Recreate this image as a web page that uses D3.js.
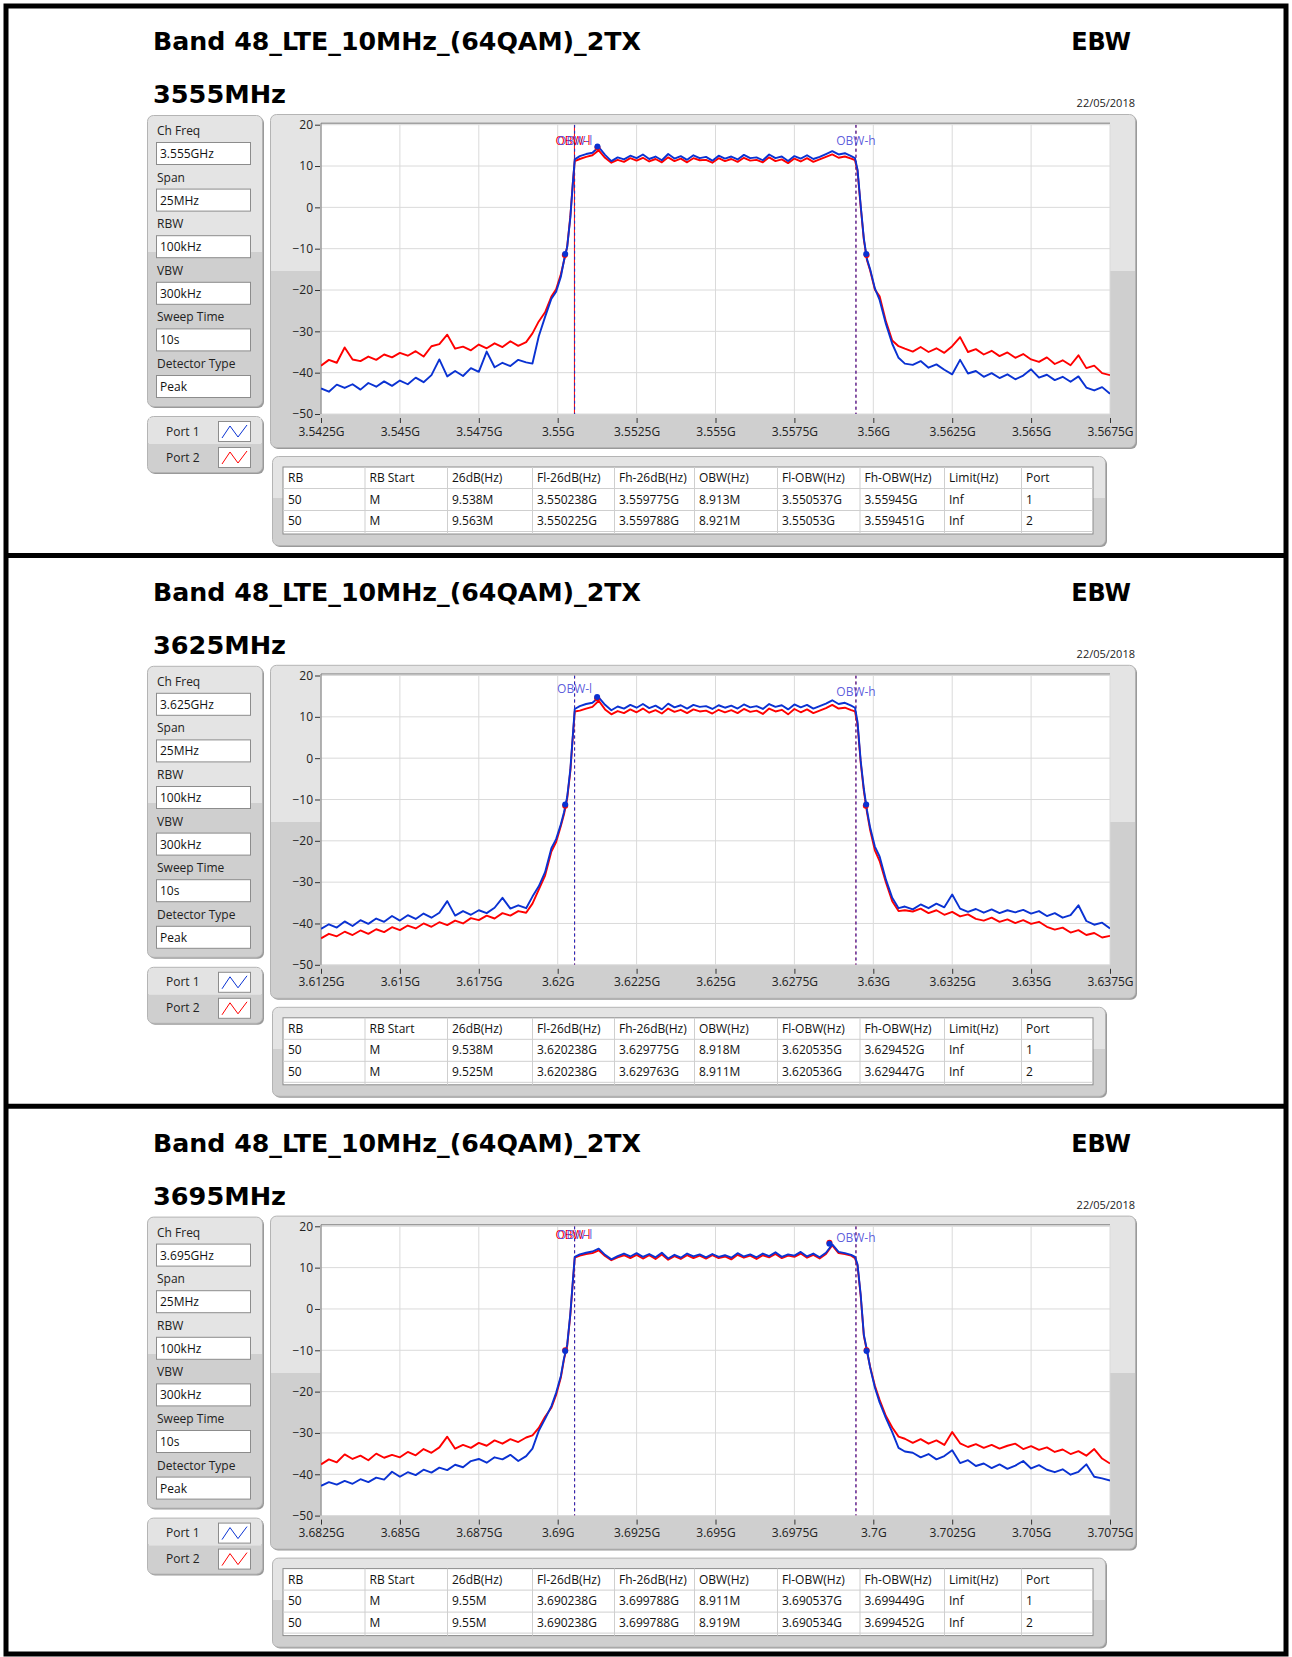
<!DOCTYPE html>
<html>
<head>
<meta charset="utf-8">
<script src="https://cdn.jsdelivr.net/npm/d3@7/dist/d3.min.js"></script>
<style>
body { margin: 0; background: #fff; }
text { font-family: "Open Sans", sans-serif; }
</style>
</head>
<body>
<div id="main"></div>
<script>
const ctx = {
    w: 1292,
    h: 1657,
    step: 550.8,
};

// frequency offset of each trace point from the channel centre (MHz)
const offsetsMHz = [
    -12.5,-12.25,-12,-11.75,-11.5,-11.25,-11,-10.75,-10.5,-10.25,-10,-9.75,-9.5,-9.25,-9,-8.75,-8.5,-8.25,-8,-7.75,-7.5,-7.25,-7,-6.75,-6.5,-6.25,-6,
    -5.8,-5.6,-5.4,-5.2,-5.05,-4.9,-4.8,-4.7,-4.6,-4.52,-4.46,
    -4.3,-4.1,-3.9,-3.7,-3.5,-3.3,-3.1,-2.9,-2.7,-2.5,-2.3,-2.1,-1.9,-1.7,-1.5,-1.3,-1.1,-0.9,-0.7,-0.5,-0.3,-0.1,
    0.1,0.3,0.5,0.7,0.9,1.1,1.3,1.5,1.7,1.9,2.1,2.3,2.5,2.7,2.9,3.1,3.3,3.5,3.7,3.9,4.1,4.3,
    4.42,4.5,4.6,4.7,4.8,4.9,5.05,5.2,5.4,5.6,5.8,6,
    6.25,6.5,6.75,7,7.25,7.5,7.75,8,8.25,8.5,8.75,9,9.25,9.5,9.75,10,10.25,10.5,10.75,11,11.25,11.5,11.75,12,12.25,12.5
];

// Port 1 (blue) and Port 2 (red) spectra, dBm
const port1_3555 = [
    -43.8,-44.6,-42.9,-43.7,-42.8,-44.1,-42.5,-43.4,-42.1,-43.2,-41.9,-42.8,-41.2,-42.3,-40.6,-36.8,-40.9,-39.6,-40.8,-38.9,-39.8,-34.9,-38.7,-37.6,-38.4,-36.9,-37.5,
    -37.8,-31.2,-26.5,-22.1,-20.4,-16.8,-12.8,-9.6,-2.5,5.8,11.6,
    12.4,12.9,13.2,14.6,12.7,11.2,12.1,11.6,12.5,11.9,12.8,11.7,12.3,11.4,12.9,11.8,12.4,11.5,12.6,11.9,12.2,11.3,
    12.5,11.8,12.3,11.6,12.7,11.9,12.1,11.4,12.8,11.9,12.3,11.2,12.4,11.8,12.6,11.7,12.2,12.9,13.6,12.8,13.1,12.4,
    11.9,9.2,0.5,-7.5,-12.5,-15.0,-19.6,-22.4,-28.2,-33.0,-36.4,-37.8,
    -38.1,-37.2,-38.8,-38.0,-39.3,-40.4,-36.9,-40.2,-39.6,-41.0,-40.1,-41.3,-40.4,-41.6,-40.7,-39.2,-41.2,-40.5,-41.8,-41.0,-42.2,-40.9,-43.6,-44.3,-43.5,-45.1
];
const port2_3555 = [
    -38.3,-36.9,-37.6,-33.9,-36.8,-37.2,-36.1,-36.9,-35.6,-36.3,-35.2,-35.9,-34.8,-36.1,-33.6,-33.1,-30.8,-34.2,-33.7,-34.6,-33.2,-34.1,-32.9,-33.8,-32.4,-33.5,-32.6,
    -30.5,-27.6,-25.4,-21.6,-19.8,-16.2,-12.9,-9.5,-2.2,6.0,11.2,
    11.7,12.2,12.6,13.8,12.0,10.8,11.5,11.0,11.9,11.3,12.0,11.1,11.7,10.9,12.1,11.2,11.8,10.9,11.9,11.4,11.5,10.8,
    11.9,11.2,11.7,11.0,12.0,11.3,11.5,10.9,12.1,11.2,11.6,10.7,11.8,11.1,11.9,11.0,11.6,12.2,12.8,12.0,12.3,11.8,
    11.4,8.8,0.2,-7.8,-12.8,-15.3,-19.9,-21.5,-27.6,-32.2,-33.6,-34.2,
    -34.9,-33.8,-35.0,-34.1,-35.2,-33.6,-31.4,-35.0,-34.3,-35.6,-34.7,-36.0,-35.1,-36.4,-35.5,-36.8,-37.4,-36.3,-37.9,-37.0,-38.2,-35.8,-38.9,-38.3,-40.1,-40.6
];
const port1_3625 = [
    -41.3,-40.2,-41.0,-39.5,-40.6,-39.2,-40.1,-38.8,-39.6,-38.2,-39.3,-38.0,-38.9,-37.6,-38.6,-37.4,-34.6,-38.1,-37.0,-37.9,-36.8,-37.5,-36.2,-33.8,-36.4,-35.6,-36.3,
    -33.5,-31.0,-27.6,-21.8,-19.6,-16.0,-13.1,-9.4,-2.8,5.6,11.9,
    12.6,13.1,13.4,14.7,12.9,11.6,12.5,12.0,12.9,12.2,13.1,12.1,12.7,11.8,13.2,12.3,12.8,12.0,12.9,12.4,12.6,11.9,
    12.8,12.2,12.7,12.0,13.0,12.3,12.6,11.9,13.1,12.4,12.8,11.8,13.0,12.3,12.9,12.0,12.6,13.2,14.0,13.1,13.4,12.7,
    12.2,8.8,-0.6,-7.4,-12.6,-16.8,-21.4,-23.8,-29.4,-33.8,-36.3,-35.9,
    -36.6,-35.4,-36.3,-35.2,-36.1,-33.0,-36.4,-37.2,-36.5,-37.4,-36.6,-37.5,-36.8,-37.3,-36.7,-37.6,-37.0,-38.2,-37.5,-38.6,-38.0,-35.6,-39.4,-40.3,-39.8,-41.2
];
const port2_3625 = [
    -43.6,-42.5,-43.1,-42.0,-42.8,-41.7,-42.5,-41.4,-42.1,-40.9,-41.6,-40.5,-41.2,-40.0,-40.8,-39.7,-40.4,-39.3,-40.0,-38.7,-39.2,-38.1,-38.8,-37.5,-38.1,-37.0,-37.4,
    -35.2,-31.8,-28.4,-22.6,-20.3,-16.4,-13.6,-9.8,-3.2,5.2,11.3,
    11.5,12.0,12.4,13.9,11.8,10.6,11.4,10.9,11.8,11.1,12.0,11.0,11.6,10.8,12.0,11.2,11.7,10.9,11.8,11.3,11.5,10.8,
    11.7,11.1,11.6,10.9,11.9,11.2,11.5,10.7,12.0,11.3,11.7,10.6,11.9,11.1,11.8,10.9,11.5,12.1,12.9,12.0,12.2,11.6,
    11.3,8.2,-1.0,-7.9,-13.1,-17.4,-22.3,-24.9,-30.1,-34.6,-37.0,-36.8,
    -37.1,-36.4,-37.5,-36.8,-37.9,-37.2,-38.3,-37.8,-38.9,-39.3,-38.6,-39.6,-39.0,-39.9,-39.2,-40.1,-39.6,-40.8,-41.5,-41.0,-42.2,-41.6,-42.8,-42.3,-43.4,-43.0
];
const port1_3695 = [
    -42.8,-41.9,-42.5,-41.6,-42.3,-41.2,-41.9,-40.8,-41.3,-39.4,-40.6,-39.5,-40.2,-38.9,-39.6,-38.4,-39.0,-37.7,-38.3,-36.8,-36.3,-37.2,-35.9,-36.4,-35.3,-36.8,-35.6,
    -33.8,-29.5,-26.6,-23.5,-20.3,-16.2,-11.9,-8.7,-1.2,6.8,12.6,
    13.2,13.6,13.9,14.6,13.1,12.0,12.8,13.4,12.7,13.5,12.6,13.3,12.5,13.6,12.2,13.1,12.4,13.4,12.7,13.2,12.5,13.3,
    12.6,13.0,12.4,13.5,12.7,13.2,12.5,13.4,12.8,13.7,12.6,13.2,12.9,13.8,12.7,13.4,12.5,13.6,15.6,13.8,13.5,13.1,
    12.6,10.8,3.5,-6.2,-10.0,-14.2,-19.0,-22.6,-26.4,-29.8,-33.6,-34.5,
    -34.8,-35.9,-35.1,-36.4,-35.6,-34.2,-37.3,-36.6,-38.0,-37.4,-38.5,-37.6,-38.7,-37.9,-36.8,-38.6,-37.8,-38.9,-39.5,-38.8,-40.1,-39.4,-37.6,-40.6,-41.0,-41.5
];
const port2_3695 = [
    -37.6,-36.4,-37.1,-35.2,-36.3,-35.5,-36.6,-35.0,-36.0,-35.3,-35.9,-34.6,-35.4,-33.9,-34.8,-33.5,-30.9,-33.8,-32.9,-33.6,-32.4,-33.1,-31.8,-32.6,-31.5,-32.2,-31.1,
    -30.6,-28.8,-26.1,-23.9,-20.8,-16.6,-12.2,-9.0,-1.5,6.5,12.4,
    12.9,13.3,13.5,14.2,12.8,11.8,12.5,13.0,12.3,13.1,12.2,13.0,12.1,13.2,11.9,12.8,12.1,13.0,12.3,12.9,12.2,13.0,
    12.3,12.7,12.0,13.1,12.4,12.9,12.1,13.0,12.5,13.3,12.3,12.9,12.6,13.4,12.4,13.1,12.2,13.3,15.4,13.5,13.3,12.9,
    12.3,10.5,3.2,-6.5,-10.3,-14.0,-18.6,-22.0,-25.9,-28.7,-30.9,-31.4,
    -32.4,-31.5,-32.6,-31.8,-32.9,-29.8,-32.5,-33.4,-32.7,-33.6,-32.9,-33.8,-33.1,-32.6,-33.9,-33.2,-34.1,-33.5,-34.6,-34.0,-35.1,-34.4,-35.5,-33.9,-36.2,-37.4
];

const port1Traces = [port1_3555, port1_3625, port1_3695];
const port2Traces = [port2_3555, port2_3625, port2_3695];

// peak marker (offset MHz, dBm) per panel
const peakOffsetsMHz = [-3.74, -3.75, 3.61];
const peakDbPort1 = [14.7, 14.8, 15.8];
const peakDbPort2 = [14.5, 14.5, 16.0];

// where the OBW cursor labels sit (dBm), [low, high]
const obwLabelDb = [[16.1, 16.1], [16.7, 15.9], [17.8, 17.2]];
// panels where the red OBW-l label shows behind the blue one
const redLowLabelShown = [true, false, true];

const channelTitles = ["3555MHz", "3625MHz", "3695MHz"];
const chFreqValues = ["3.555GHz", "3.625GHz", "3.695GHz"];
const settingLabels = ["Ch Freq", "Span", "RBW", "VBW", "Sweep Time", "Detector Type"];
const settingValues = ["25MHz", "100kHz", "300kHz", "10s", "Peak"];

const ticks3555 = ["3.5425G","3.545G","3.5475G","3.55G","3.5525G","3.555G","3.5575G","3.56G","3.5625G","3.565G","3.5675G"];
const ticks3625 = ["3.6125G","3.615G","3.6175G","3.62G","3.6225G","3.625G","3.6275G","3.63G","3.6325G","3.635G","3.6375G"];
const ticks3695 = ["3.6825G","3.685G","3.6875G","3.69G","3.6925G","3.695G","3.6975G","3.7G","3.7025G","3.705G","3.7075G"];
const xTickLabels = [ticks3555, ticks3625, ticks3695];
const yTicks = [20, 10, 0, -10, -20, -30, -40, -50];

const tableHeader = ["RB","RB Start","26dB(Hz)","Fl-26dB(Hz)","Fh-26dB(Hz)","OBW(Hz)","Fl-OBW(Hz)","Fh-OBW(Hz)","Limit(Hz)","Port"];
const table3555 = [
    ["50","M","9.538M","3.550238G","3.559775G","8.913M","3.550537G","3.55945G","Inf","1"],
    ["50","M","9.563M","3.550225G","3.559788G","8.921M","3.55053G","3.559451G","Inf","2"]
];
const table3625 = [
    ["50","M","9.538M","3.620238G","3.629775G","8.918M","3.620535G","3.629452G","Inf","1"],
    ["50","M","9.525M","3.620238G","3.629763G","8.911M","3.620536G","3.629447G","Inf","2"]
];
const table3695 = [
    ["50","M","9.55M","3.690238G","3.699788G","8.911M","3.690537G","3.699449G","Inf","1"],
    ["50","M","9.55M","3.690238G","3.699788G","8.919M","3.690534G","3.699452G","Inf","2"]
];
const tables = [table3555, table3625, table3695];

const BLUE = "#0a32d2", RED = "#ff0000", LABEL_BLUE = "#4a4ad8";
const colX = [283, 364.5, 447, 532, 614, 694, 777, 859.5, 944, 1021, 1093];

function grayPanel(g, x, y, w, h) {
    g.append("rect").attr("x", x + 1.5).attr("y", y + 1.5).attr("width", w).attr("height", h)
        .attr("rx", 6).attr("fill", "#9a9a9a");
    g.append("rect").attr("x", x).attr("y", y).attr("width", w).attr("height", h)
        .attr("rx", 6).attr("fill", "url(#panelGrad)").attr("stroke", "#b4b4b4");
}

function createPanel(svgEl, i) {
    const g = svgEl.append("g").attr("transform", `translate(0, ${i * ctx.step})`);
    const center = +channelTitles[i].replace("MHz", "");

    // titles
    g.append("text").attr("x", 153).attr("y", 50).attr("textLength", 488).attr("lengthAdjust", "spacingAndGlyphs")
        .style("font-family", "'DejaVu Sans'").style("font-weight", "bold").style("font-size", "24px")
        .text("Band 48_LTE_10MHz_(64QAM)_2TX");
    g.append("text").attr("x", 1131).attr("y", 50).attr("text-anchor", "end")
        .style("font-family", "'DejaVu Sans'").style("font-weight", "bold").style("font-size", "24px").text("EBW");
    g.append("text").attr("x", 153).attr("y", 103).attr("textLength", 133).attr("lengthAdjust", "spacingAndGlyphs")
        .style("font-family", "'DejaVu Sans'").style("font-weight", "bold").style("font-size", "24px")
        .text(channelTitles[i]);
    g.append("text").attr("x", 1135).attr("y", 107).attr("text-anchor", "end")
        .style("font-size", "11px").attr("fill", "#222").text("22/05/2018");

    // settings panel
    grayPanel(g, 147.5, 115.5, 115, 291);
    const vals = [chFreqValues[i]].concat(settingValues);
    settingLabels.forEach((lab, k) => {
        const y0 = 135 + k * 46.6;
        g.append("text").attr("x", 157).attr("y", y0).style("font-size", "12px").attr("fill", "#222").text(lab);
        g.append("rect").attr("x", 156.5).attr("y", y0 + 7.5).attr("width", 94).attr("height", 22)
            .attr("fill", "#fff").attr("stroke", "#8c8c8c");
        g.append("text").attr("x", 160).attr("y", y0 + 23).style("font-size", "12px").attr("fill", "#111").text(vals[k]);
    });

    // legend panel
    grayPanel(g, 147.5, 416.5, 115, 56);
    g.append("rect").attr("x", 149).attr("y", 418).attr("width", 112).attr("height", 26).attr("fill", "#e3e3e3");
    [["Port 1", BLUE], ["Port 2", RED]].forEach((p, k) => {
        const y0 = 421 + k * 26;
        g.append("text").attr("x", 166).attr("y", y0 + 14.5).style("font-size", "12px").attr("fill", "#222").text(p[0]);
        g.append("rect").attr("x", 218.5).attr("y", y0 + 0.5).attr("width", 32).attr("height", 20)
            .attr("fill", "#fff").attr("stroke", "#8c8c8c");
        g.append("polyline").attr("points", `${222},${y0 + 17} ${230},${y0 + 5} ${238},${y0 + 16} ${247},${y0 + 4}`)
            .attr("fill", "none").attr("stroke", p[1]).attr("stroke-width", 1);
    });

    // chart panel
    grayPanel(g, 270.5, 114.5, 865, 333);

    const tickMHz = xTickLabels[i].map(s => parseFloat(s) * 1000);
    const x = d3.scaleLinear().domain(d3.extent(tickMHz)).range([321, 1110]);
    const y = d3.scaleLinear().domain([-50, 20]).range([414, 124.7]);

    g.append("rect").attr("x", x.range()[0]).attr("y", y(20) - 1.5).attr("width", x.range()[1] - x.range()[0])
        .attr("height", y(-50) - y(20) + 1.5).attr("fill", "#fff");

    // grid
    g.append("g").selectAll("line").data(tickMHz).join("line")
        .attr("x1", d => x(d)).attr("x2", d => x(d)).attr("y1", y(20)).attr("y2", y(-50))
        .attr("stroke", "#dadada");
    g.append("g").selectAll("line").data(yTicks).join("line")
        .attr("x1", x.range()[0]).attr("x2", x.range()[1]).attr("y1", d => y(d)).attr("y2", d => y(d))
        .attr("stroke", "#dadada");
    g.append("line").attr("x1", 321).attr("x2", 321).attr("y1", y(20) - 1.5).attr("y2", y(-50)).attr("stroke", "#7a7a7a");
    g.append("line").attr("x1", 321).attr("x2", 1110).attr("y1", y(20) - 1.5).attr("y2", y(20) - 1.5).attr("stroke", "#7a7a7a");

    // axes
    const xAxis = g.append("g").attr("transform", `translate(0, 418)`)
        .call(d3.axisBottom(x).tickValues(tickMHz).tickFormat((d, j) => xTickLabels[i][j]).tickSize(5).tickPadding(4));
    const yAxis = g.append("g").attr("transform", `translate(320, 0)`)
        .call(d3.axisLeft(y).tickValues(yTicks).tickSize(5).tickPadding(2));
    [xAxis, yAxis].forEach(a => {
        a.select(".domain").remove();
        a.selectAll(".tick line").attr("stroke", "#333");
        a.selectAll(".tick text").style("font-size", "12px").style("font-family", "'Open Sans'").attr("fill", "#222");
    });

    // clip for traces
    const clipId = "clip" + i;
    g.append("clipPath").attr("id", clipId).append("rect")
        .attr("x", 321).attr("y", y(20)).attr("width", 789).attr("height", y(-50) - y(20));

    const line = d3.line().x((d, j) => x(center + offsetsMHz[j])).y(d => y(d));
    const plotG = g.append("g").attr("clip-path", `url(#${clipId})`);

    // OBW cursors
    const rows = tables[i];
    [[rows[1], RED], [rows[0], BLUE]].forEach(([row, col], p) => {
        [row[6], row[7]].forEach((f, k) => {
            const fx = x(parseFloat(f) * 1000);
            const solid = (i === 0 && k === 0 && p === 0);
            plotG.append("line").attr("x1", fx).attr("x2", fx).attr("y1", y(20)).attr("y2", y(-50))
                .attr("stroke", col).attr("stroke-width", 1)
                .attr("stroke-dasharray", solid ? null : "3,3");
        });
    });

    plotG.append("path").datum(port2Traces[i]).attr("d", line)
        .attr("fill", "none").attr("stroke", RED).attr("stroke-width", 1.9).attr("stroke-linejoin", "round");
    plotG.append("path").datum(port1Traces[i]).attr("d", line)
        .attr("fill", "none").attr("stroke", BLUE).attr("stroke-width", 1.9).attr("stroke-linejoin", "round");

    // markers: peak and -26 dB points
    [[rows[1], RED, peakDbPort2[i]], [rows[0], BLUE, peakDbPort1[i]]].forEach(([row, col, pk]) => {
        const pts = [
            [center + peakOffsetsMHz[i], pk],
            [parseFloat(row[3]) * 1000, pk - 26],
            [parseFloat(row[4]) * 1000, pk - 26]
        ];
        plotG.selectAll(null).data(pts).join("circle")
            .attr("cx", d => x(d[0])).attr("cy", d => y(d[1])).attr("r", 3).attr("fill", col);
    });

    // OBW labels
    if (redLowLabelShown[i]) {
        g.append("text").attr("x", x(parseFloat(rows[1][6]) * 1000) - 1.5).attr("y", y(obwLabelDb[i][0]) + 4)
            .attr("text-anchor", "middle").style("font-size", "12px").attr("fill", RED).text("OBW-l");
    }
    [["OBW-l", rows[0][6], obwLabelDb[i][0]], ["OBW-h", rows[0][7], obwLabelDb[i][1]]].forEach(([lab, f, db]) => {
        g.append("text").attr("x", x(parseFloat(f) * 1000)).attr("y", y(db) + 4)
            .attr("text-anchor", "middle").style("font-size", "12px").attr("fill", LABEL_BLUE)
            .attr("fill-opacity", 0.9).text(lab);
    });

    // results table
    grayPanel(g, 272.5, 456.5, 833, 89);
    g.append("rect").attr("x", colX[0]).attr("y", 467).attr("width", colX[colX.length - 1] - colX[0]).attr("height", 67)
        .attr("fill", "#fff").attr("stroke", "#8c8c8c");
    [488, 510, 531].forEach(ly => {
        g.append("line").attr("x1", colX[0]).attr("x2", colX[colX.length - 1]).attr("y1", ly + 0.5).attr("y2", ly + 0.5)
            .attr("stroke", "#cfcfcf");
    });
    colX.slice(1, -1).forEach(cx => {
        g.append("line").attr("x1", cx + 0.5).attr("x2", cx + 0.5).attr("y1", 467).attr("y2", 534).attr("stroke", "#cfcfcf");
    });
    [tableHeader].concat(rows).forEach((r, ri) => {
        r.forEach((cell, ci) => {
            g.append("text").attr("x", colX[ci] + 5).attr("y", 482 + ri * 21.5)
                .style("font-size", "12px").attr("fill", "#111").text(cell);
        });
    });
}

function createViz() {
    const svgEl = d3.select("#main").append("svg")
        .attr("width", ctx.w)
        .attr("height", ctx.h);

    const grad = svgEl.append("defs").append("linearGradient").attr("id", "panelGrad")
        .attr("x1", 0).attr("y1", 0).attr("x2", 0).attr("y2", 1);
    [[0, "#e4e4e4"], [0.47, "#e4e4e4"], [0.47, "#cfcfcf"], [1, "#cfcfcf"]].forEach(s => {
        grad.append("stop").attr("offset", s[0]).attr("stop-color", s[1]);
    });

    svgEl.append("rect").attr("width", ctx.w).attr("height", ctx.h).attr("fill", "#fff");

    for (let i = 0; i < 3; i++) createPanel(svgEl, i);

    // black frame and separators
    svgEl.append("rect").attr("x", 6).attr("y", 6).attr("width", 1280).attr("height", 1648)
        .attr("fill", "none").attr("stroke", "#000").attr("stroke-width", 5);
    [555.5, 1106.3].forEach(sy => {
        svgEl.append("line").attr("x1", 6).attr("x2", 1286).attr("y1", sy).attr("y2", sy)
            .attr("stroke", "#000").attr("stroke-width", 5);
    });
}

createViz();
</script>
</body>
</html>
